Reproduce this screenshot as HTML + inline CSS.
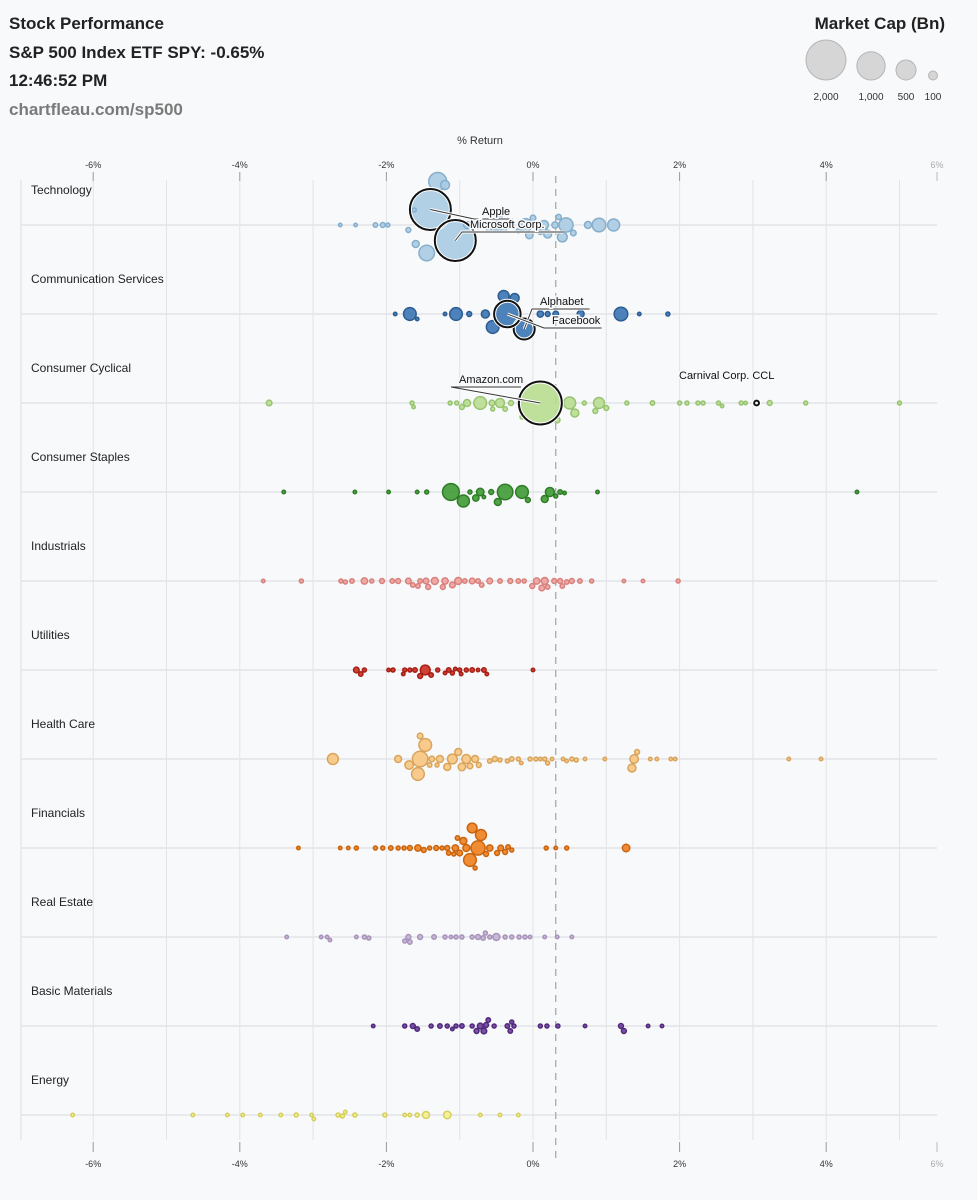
<!DOCTYPE html>
<html><head><meta charset="utf-8"><style>
body{margin:0;background:#f8f9fb;font-family:"Liberation Sans",sans-serif;}
svg{display:block}
</style></head><body>
<svg id="chart" width="977" height="1200">
<rect width="977" height="1200" fill="#f8f9fb"/>
<g font-weight="bold" font-size="17" fill="#222">
<text x="9" y="29">Stock Performance</text>
<text x="9" y="58">S&amp;P 500 Index ETF SPY: -0.65%</text>
<text x="9" y="86">12:46:52 PM</text>
<text x="9" y="115" fill="#7a7a7a">chartfleau.com/sp500</text>
</g>
<g id="legend"><text x="945" y="29" text-anchor="end" font-weight="bold" font-size="17" fill="#222">Market Cap (Bn)</text></g>
<text x="480" y="144" text-anchor="middle" font-size="11" fill="#333">% Return</text>
<g id="grid"></g><g id="axes"></g><g id="marks"></g><g id="annos"></g>
</svg>
<script>
const sectors=["Technology","Communication Services","Consumer Cyclical","Consumer Staples","Industrials","Utilities","Health Care","Financials","Real Estate","Basic Materials","Energy"];
const fills=["#a9cbe3","#3a74b2","#b8dd90","#3f9a34","#f0a19c","#cc2d1f","#f7c57f","#ee7f1d","#c6b3d5","#6a3e9b","#f5f08e"];
const strokes=["#86aecb","#2c5d92","#98c472","#2f7d27","#d8817c","#a62015","#d9a45c","#c9650f","#a893ba","#52297d","#d5cf5c"];
const xTicks=[-6,-4,-2,0,2,4];
const xTickLabels=["-6%","-4%","-2%","0%","2%","4%"];
const spyLine=0.31;
const legendCaps=[2000,1000,500,100];
const legendLabels=["2,000","1,000","500","100"];
const tech_ret=[-2.63,-2.42,-2.15,-2.05,-1.98,-1.7,-1.62,-1.4,-1.06,-1.3,-1.45,-0.9,-0.75,-0.6,-0.5,-0.4,-0.3,-0.2,-0.1,0.0,0.1,0.2,0.3,0.4,0.45,0.55,0.75,0.9,1.1,-1.2,-1.6,-0.05,0.35,0.15,-0.45,-0.35];
const tech_cap=[15,15,25,30,20,30,20,1900,1900,400,300,60,80,30,150,40,60,25,200,40,30,80,50,120,250,40,60,230,180,100,60,70,35,100,20,20];
const comm_ret=[-1.88,-1.68,-1.58,-1.2,-1.05,-0.87,-0.65,-0.4,-0.35,-0.12,0.1,0.2,0.31,0.65,1.2,1.45,1.84,-0.55,-0.25];
const comm_cap=[15,200,15,15,200,30,80,150,750,450,50,30,40,60,230,15,20,200,100];
const cyc_ret=[-3.6,-1.65,-1.63,-1.13,-1.04,-0.97,-0.9,-0.72,-0.56,-0.45,-0.38,-0.3,0.1,0.5,0.57,0.7,0.85,0.9,1.0,1.28,1.63,2.0,2.1,2.25,2.32,2.53,2.58,2.84,2.9,3.05,3.23,3.72,5.0,0.33,-0.15,-0.55];
const cyc_cap=[40,20,15,20,20,30,60,200,40,100,25,30,2100,180,80,20,30,150,30,20,25,20,20,20,20,20,15,20,15,10,30,20,20,40,20,20];
const stap_ret=[-3.4,-2.43,-1.97,-1.58,-1.45,-1.12,-0.95,-0.86,-0.67,-0.57,-0.38,-0.15,-0.07,0.23,0.31,0.43,0.88,4.42,-0.72,-0.48,-0.78,0.16,0.37];
const stap_cap=[15,15,15,15,20,350,180,20,15,30,300,200,30,100,20,15,15,15,70,60,50,60,25];
const ind_ret=[-3.68,-3.16,-2.62,-2.47,-2.3,-2.2,-2.06,-1.92,-1.84,-1.7,-1.64,-1.54,-1.43,-1.34,-1.23,-1.1,-1.02,-0.93,-0.83,-0.75,-0.59,-0.45,-0.31,-0.2,-0.12,-0.01,0.05,0.12,0.2,0.29,0.4,0.46,0.53,0.64,0.8,1.24,1.5,1.98,-2.56,-1.57,-1.2,-0.7,0.16,0.37,-1.46];
const ind_cap=[15,20,20,25,50,20,30,25,30,40,25,25,30,60,30,40,60,25,40,25,40,25,30,25,20,30,50,40,25,30,25,25,30,25,20,15,15,20,20,25,50,25,60,30,40];
const util_ret=[-2.41,-2.35,-2.3,-1.97,-1.91,-1.68,-1.61,-1.54,-1.47,-1.39,-1.3,-1.2,-1.1,-1.06,-1.0,-0.91,-0.83,-0.75,-0.67,-0.63,0.0,-1.77,-1.15,-0.98,-1.75];
const util_cap=[40,25,20,15,20,20,25,30,120,25,20,15,20,15,20,20,25,15,25,15,15,15,25,15,20];
const hc_ret=[-2.73,-1.84,-1.69,-1.57,-1.54,-1.47,-1.38,-1.27,-1.17,-1.1,-1.02,-0.97,-0.91,-0.86,-0.79,-0.74,-0.59,-0.52,-0.45,-0.35,-0.29,-0.2,-0.16,-0.04,0.04,0.1,0.16,0.2,0.26,0.41,0.46,0.53,0.59,0.71,0.98,1.35,1.38,1.42,1.6,1.69,1.88,1.94,3.49,3.93,-1.54,-1.41,-1.31];
const hc_cap=[150,60,90,200,300,200,40,60,60,120,60,70,100,40,60,30,25,35,20,20,25,20,15,20,20,15,20,20,15,15,15,20,20,15,15,80,90,30,15,15,15,15,15,15,40,25,20];
const fin_ret=[-3.2,-2.63,-2.52,-2.41,-2.15,-2.05,-1.94,-1.84,-1.76,-1.68,-1.57,-1.49,-1.41,-1.32,-1.24,-1.15,-1.06,-1.0,-0.91,-0.86,-0.75,-0.71,-0.64,-0.59,-0.49,-0.38,-0.29,0.18,0.31,0.46,1.27,-0.83,-0.95,-1.08,-1.17,-0.79,-1.03,-0.44,-0.34];
const fin_cap=[15,15,15,20,20,20,25,20,20,30,50,30,20,30,20,25,50,40,60,200,250,150,30,50,30,30,20,20,15,20,70,120,60,20,30,20,25,40,25];
const re_ret=[-3.36,-2.89,-2.81,-2.77,-2.41,-2.3,-2.24,-1.75,-1.7,-1.68,-1.54,-1.35,-1.2,-1.12,-1.05,-0.97,-0.83,-0.75,-0.68,-0.65,-0.59,-0.5,-0.38,-0.29,-0.19,-0.11,-0.04,0.16,0.33,0.53];
const re_cap=[15,15,15,15,15,20,20,20,30,25,30,25,20,15,20,20,20,30,25,20,20,60,20,20,20,20,15,15,15,15];
const mat_ret=[-2.18,-1.75,-1.64,-1.58,-1.39,-1.27,-1.17,-1.05,-0.97,-0.83,-0.72,-0.67,-0.64,-0.53,-0.35,-0.31,-0.26,0.1,0.19,0.34,0.71,1.2,1.24,1.57,1.76,-0.77,-0.61,-0.29,-1.1];
const mat_cap=[15,20,30,25,20,25,20,20,25,20,40,40,30,20,25,25,20,20,20,20,15,30,30,15,15,30,25,20,15];
const en_ret=[-6.28,-4.64,-4.17,-3.96,-3.72,-3.44,-3.23,-3.02,-2.99,-2.66,-2.6,-2.56,-2.43,-2.02,-1.75,-1.68,-1.58,-1.46,-1.17,-0.72,-0.45,-0.2];
const en_cap=[15,15,15,15,15,15,20,15,15,20,20,15,20,20,15,15,20,60,70,15,15,15];
const allRet=[tech_ret,comm_ret,cyc_ret,stap_ret,ind_ret,util_ret,hc_ret,fin_ret,re_ret,mat_ret,en_ret];
const allCap=[tech_cap,comm_cap,cyc_cap,stap_cap,ind_cap,util_cap,hc_cap,fin_cap,re_cap,mat_cap,en_cap];
const highlights=[{s:0,label:"Apple",ret:-1.4},{s:0,label:"Microsoft Corp.",ret:-1.06},{s:1,label:"Alphabet",ret:-0.12},{s:1,label:"Facebook",ret:-0.35},{s:2,label:"Amazon.com",ret:0.1},{s:2,label:"Carnival Corp. CCL",ret:3.05}];

const NS="http://www.w3.org/2000/svg";
const X0=21,X1=937,zeroX=533,pxPer=73.3;
const xScale=v=>zeroX+v*pxPer;
const rScale=c=>20*Math.sqrt(c/2000);
const rowY=i=>225+i*89;
function mk(tag,attrs,parent){const e=document.createElementNS(NS,tag);for(const k in attrs)e.setAttribute(k,attrs[k]);parent.appendChild(e);return e;}
const grid=document.getElementById('grid'),axes=document.getElementById('axes'),marks=document.getElementById('marks'),annos=document.getElementById('annos'),legend=document.getElementById('legend');

// legend
let lx=[826,871,906,933];
legendCaps.forEach((c,i)=>{const r=rScale(c);
 const ci=mk('circle',{cx:lx[i],cy:80-r,r:r,fill:'#d6d6d6',stroke:'#b5b5b5','stroke-width':1},legend);
 
 
 const t=mk('text',{x:lx[i],y:100,'text-anchor':'middle','font-size':10,fill:'#333'},legend);t.textContent=legendLabels[i];
 
 
});

// grid
mk('line',{x1:X0,x2:X0,y1:180,y2:1140,stroke:'#dcdde0'},grid);
for(let p=-6;p<=5;p++){const x=xScale(p);
 const l=mk('line',{x1:x,x2:x,y1:180,y2:1140,stroke:'#e3e4e7','stroke-width':1},grid);
 
 }
sectors.forEach((s,i)=>{const y=rowY(i);
 const l=mk('line',{x1:X0,x2:X1,y1:y,y2:y,stroke:'#e3e4e7','stroke-width':1.5},grid);
 
 
 const t=mk('text',{x:31,y:y-31,'font-size':12,fill:'#222'},grid);t.textContent=s;
 
 });
const sx=xScale(spyLine);
const spy=mk('line',{x1:sx,x2:sx,y1:176,y2:1158,stroke:'#aaa','stroke-width':1.3,'stroke-dasharray':'7,6'},grid);



// axes
[[164,172,181],[1163,1142,1152]].forEach(([ty,a,b],k)=>{
 xTicks.forEach((v,i)=>{const x=xScale(v);
  mk('line',{x1:x,x2:x,y1:a,y2:b,stroke:'#999'},axes);
  const t=mk('text',{x:x,y:ty+4,'text-anchor':'middle','font-size':9,fill:'#333'},axes);t.textContent=xTickLabels[i];
  
  });
 mk('line',{x1:X1,x2:X1,y1:a,y2:b,stroke:'#bbb'},axes);
 const t=mk('text',{x:X1,y:ty+4,'text-anchor':'middle','font-size':9,fill:'#aaa'},axes);t.textContent='6%';
 
 
});

// beeswarm
const placed={};
allRet.forEach((rets,si)=>{
 const base=rowY(si);
 const idx=rets.map((_,i)=>i).sort((a,b)=>allCap[si][b]-allCap[si][a]);
 const pts=[];
 idx.forEach(i=>{const x=xScale(rets[i]),r=rScale(allCap[si][i]);let y=base;
  for(let k=0;k<400;k++){const off=(k%2?1:-1)*Math.ceil(k/2)*1;y=base+off;
   if(pts.every(p=>Math.hypot(p.x-x,p.y-y)>=p.r+r+0.5))break;}
  pts.push({x,y,r,i});});
 // recentre the large bubbles around the baseline
 let sw=0,sy=0;pts.forEach(p=>{if(p.r>=12){sw+=p.r*p.r;sy+=p.r*p.r*(p.y-base);}});
 if(sw>0){const sh=-sy/sw;pts.forEach(p=>{if(p.r>=8)p.y+=sh;});}
 pts.sort((a,b)=>b.r-a.r);
 placed[si]=pts;
 pts.forEach(p=>{const c=mk('circle',{cx:p.x,cy:p.y,r:p.r,fill:fills[si],'fill-opacity':0.9,stroke:strokes[si],'stroke-width':1.5},marks);
  
  });
});

// annotations
const labelPos={"Apple":[482,215,'start'],"Microsoft Corp.":[470,228,'start'],"Alphabet":[540,305,'start'],"Facebook":[552,324,'start'],"Amazon.com":[459,383,'start'],"Carnival Corp. CCL":[679,379,'start']};
highlights.forEach(h=>{const p=placed[h.s].find(q=>Math.abs(q.x-xScale(h.ret))<0.01);if(!p)return;
 mk('circle',{cx:p.x,cy:p.y,r:p.r+1,fill:'none',stroke:'#fff','stroke-width':4},annos);
 const c=mk('circle',{cx:p.x,cy:p.y,r:p.r+1,fill:'none',stroke:'#111','stroke-width':2},annos);
 
 
 const lp=labelPos[h.label];
 if(h.label!=="Carnival Corp. CCL"){
  const ly=lp[1]+4, lw=h.label.length*6.2;
  mk('polyline',{points:`${p.x},${p.y} ${lp[0]-8},${ly} ${lp[0]+lw},${ly}`,fill:'none',stroke:'#fff','stroke-width':3},annos);
  mk('polyline',{points:`${p.x},${p.y} ${lp[0]-8},${ly} ${lp[0]+lw},${ly}`,fill:'none',stroke:'#333','stroke-width':1},annos);}
 const t=mk('text',{x:lp[0],y:lp[1],'font-size':11,fill:'#111',stroke:'#f8f9fb','stroke-width':3,'paint-order':'stroke'},annos);t.textContent=h.label;
 
 
});
</script>
</body></html>
